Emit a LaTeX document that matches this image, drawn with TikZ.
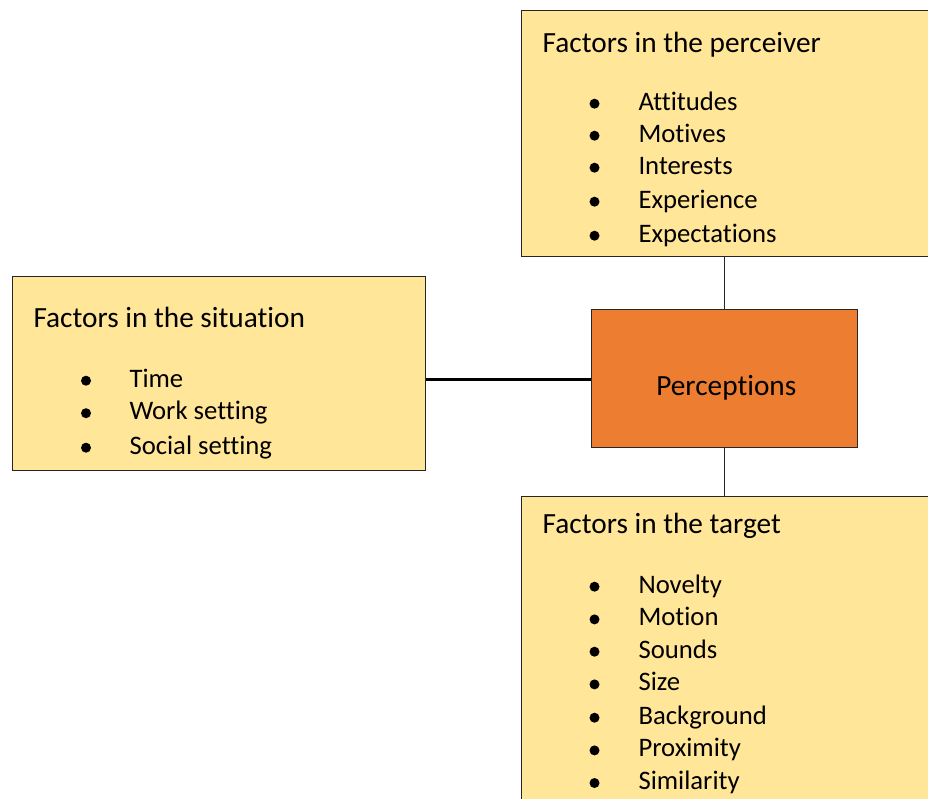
\documentclass[tikz,border=0pt]{standalone}
\usepackage{fontspec}
\setmainfont{Carlito}[RawFeature=-liga]
\definecolor{boxyellow}{HTML}{FFE699}
\definecolor{perco}{HTML}{ED7D31}
\definecolor{edge}{HTML}{262626}
\begin{document}
\begin{tikzpicture}[x=1pt,y=-1pt,
  box/.style={draw=edge, line width=0.9pt, fill=boxyellow, rectangle, inner sep=0pt, anchor=north west},
  centrebox/.style={draw=edge, line width=0.9pt, fill=perco, rectangle, inner sep=0pt, anchor=north west},
  ttl/.style={anchor=base west, inner sep=0pt, font=\fontsize{29.3}{35}\selectfont},
  itm/.style={anchor=base west, inner sep=0pt, font=\fontsize{26.7}{32}\selectfont},
  thinlink/.style={draw=edge, line width=0.9pt},
  thicklink/.style={draw=black, line width=2.7pt}]
\useasboundingbox (0,0) rectangle (928,798);
\clip (0,0) rectangle (928,798);
% boxes
\node[box, minimum width=419pt, minimum height=246pt] (top) at (521,10) {};
\node[box, minimum width=413pt, minimum height=194pt] (left) at (12.3,276) {};
\node[centrebox, minimum width=266pt, minimum height=138pt] (perc) at (590.7,309) {};
\node[box, minimum width=419pt, minimum height=330pt] (bottom) at (521,496) {};
% connectors
\draw[thinlink] (perc.north) -- (perc.north |- top.south);
\draw[thinlink] (perc.south) -- (perc.south |- bottom.north);
\draw[thicklink] (perc.west |- 0,379.3) -- (left.east |- 0,379.3);
% centre text
\node[anchor=base, inner sep=0pt, font=\fontsize{29.3}{35}\selectfont] (perctext) at (726.3,395) {Perceptions};
% titles
\node[ttl] (toptitle) at (542.5,52) {Factors in the perceiver};
\node[ttl] (lefttitle) at (33.3,327) {Factors in the situation};
\node[ttl] (bottomtitle) at (542.5,533) {Factors in the target};
% lists
\foreach \txt/\yy [count=\i] in {Attitudes/110, Motives/142, Interests/174, Experience/208, Expectations/242}{
  \fill (594.5,\yy-6.3) circle[radius=5];
  \node[itm] (p\i) at (638.3,\yy) {\txt};
}
\foreach \txt/\yy [count=\i] in {Time/387, Work setting/419.5, Social setting/454}{
  \fill (86,\yy-6.3) circle[radius=5];
  \node[itm] (s\i) at (129.3,\yy) {\txt};
}
\foreach \txt/\yy [count=\i] in {Novelty/593, Motion/625.7, Sounds/658, Size/690.7, Background/724, Proximity/756.7, Similarity/789.3}{
  \fill (594.5,\yy-6.3) circle[radius=5];
  \node[itm] (g\i) at (638.3,\yy) {\txt};
}
\end{tikzpicture}
\end{document}
